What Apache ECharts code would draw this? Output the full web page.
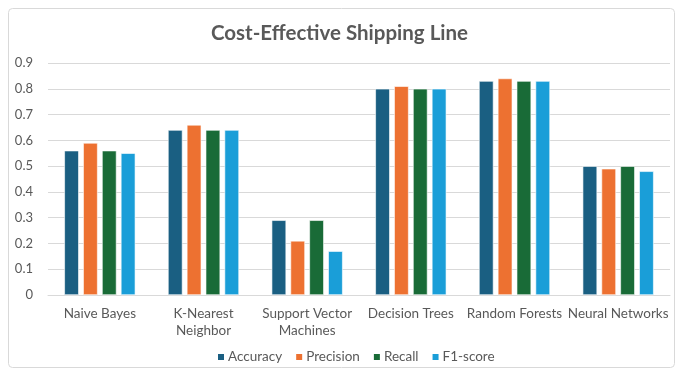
<!DOCTYPE html>
<html><head><meta charset="utf-8">
<script src="https://cdn.jsdelivr.net/npm/echarts@6/dist/echarts.min.js"></script>
<style>html,body{margin:0;padding:0;background:#fff}#c{width:679px;height:374px}</style>
</head><body><div id="c"></div>
<script>
const categories = ["Naive Bayes", "K-Nearest\nNeighbor", "Support Vector\nMachines", "Decision Trees", "Random Forests", "Neural Networks"];
const seriesNames = ["Accuracy", "Precision", "Recall", "F1-score"];
const accuracy = [0.56, 0.64, 0.29, 0.80, 0.83, 0.50];
const precision = [0.59, 0.66, 0.21, 0.81, 0.84, 0.49];
const recall = [0.56, 0.64, 0.29, 0.80, 0.83, 0.50];
const f1score = [0.55, 0.64, 0.17, 0.80, 0.83, 0.48];
const yTicks = [0, 0.1, 0.2, 0.3, 0.4, 0.5, 0.6, 0.7, 0.8, 0.9];

const colors = ["#1a5f82", "#ed7131", "#196b37", "#1a9ed8"];
const values = [accuracy, precision, recall, f1score];
const font = "Lato, 'Open Sans', sans-serif";
const chart = echarts.init(document.getElementById('c'));
chart.setOption({
  animation: false,
  graphic: [{type:'rect', shape:{x:8.5,y:8.5,width:666,height:359,r:4}, style:{fill:'none',stroke:'#d9d9d9',lineWidth:1}, silent:true}],
  title: {text: "Cost-Effective Shipping Line", left: 'center', top: 18,
    textStyle: {fontFamily: font, fontSize: 20.5, fontWeight: 'bold', color: '#595959'}},
  legend: {data: seriesNames, bottom: 5, left: 211, itemWidth: 8, itemHeight: 8, itemGap: 12,
    icon: 'rect', textStyle: {fontFamily: font, fontSize: 13.5, color: '#595959', padding:[0,0,0,-2]}},
  grid: {left: 48, right: 9, top: 63, bottom: 79},
  xAxis: {type: 'category', data: categories,
    axisLine: {lineStyle: {color: '#d9d9d9'}}, axisTick: {show: false},
    axisLabel: {fontFamily: font, fontSize: 13.5, color: '#595959', margin: 10, lineHeight: 17, interval: 0}},
  yAxis: {type: 'value', min: 0, max: 0.9, interval: 0.1,
    axisLabel: {fontFamily: font, fontSize: 13, color: '#595959', margin: 15,
      formatter: v => { const t = yTicks.find(x => Math.abs(x - v) < 1e-9); return t === 0 ? '0' : String(t); }},
    splitLine: {lineStyle: {color: '#d9d9d9'}}, axisLine: {show: false}},
  series: seriesNames.map((n, i) => ({
    name: n, type: 'bar', data: values[i], barWidth: 14.5, barGap: '30%',
    itemStyle: {color: colors[i], borderColor: '#ffffff', borderWidth: 0.6}
  }))
});
</script></body></html>
